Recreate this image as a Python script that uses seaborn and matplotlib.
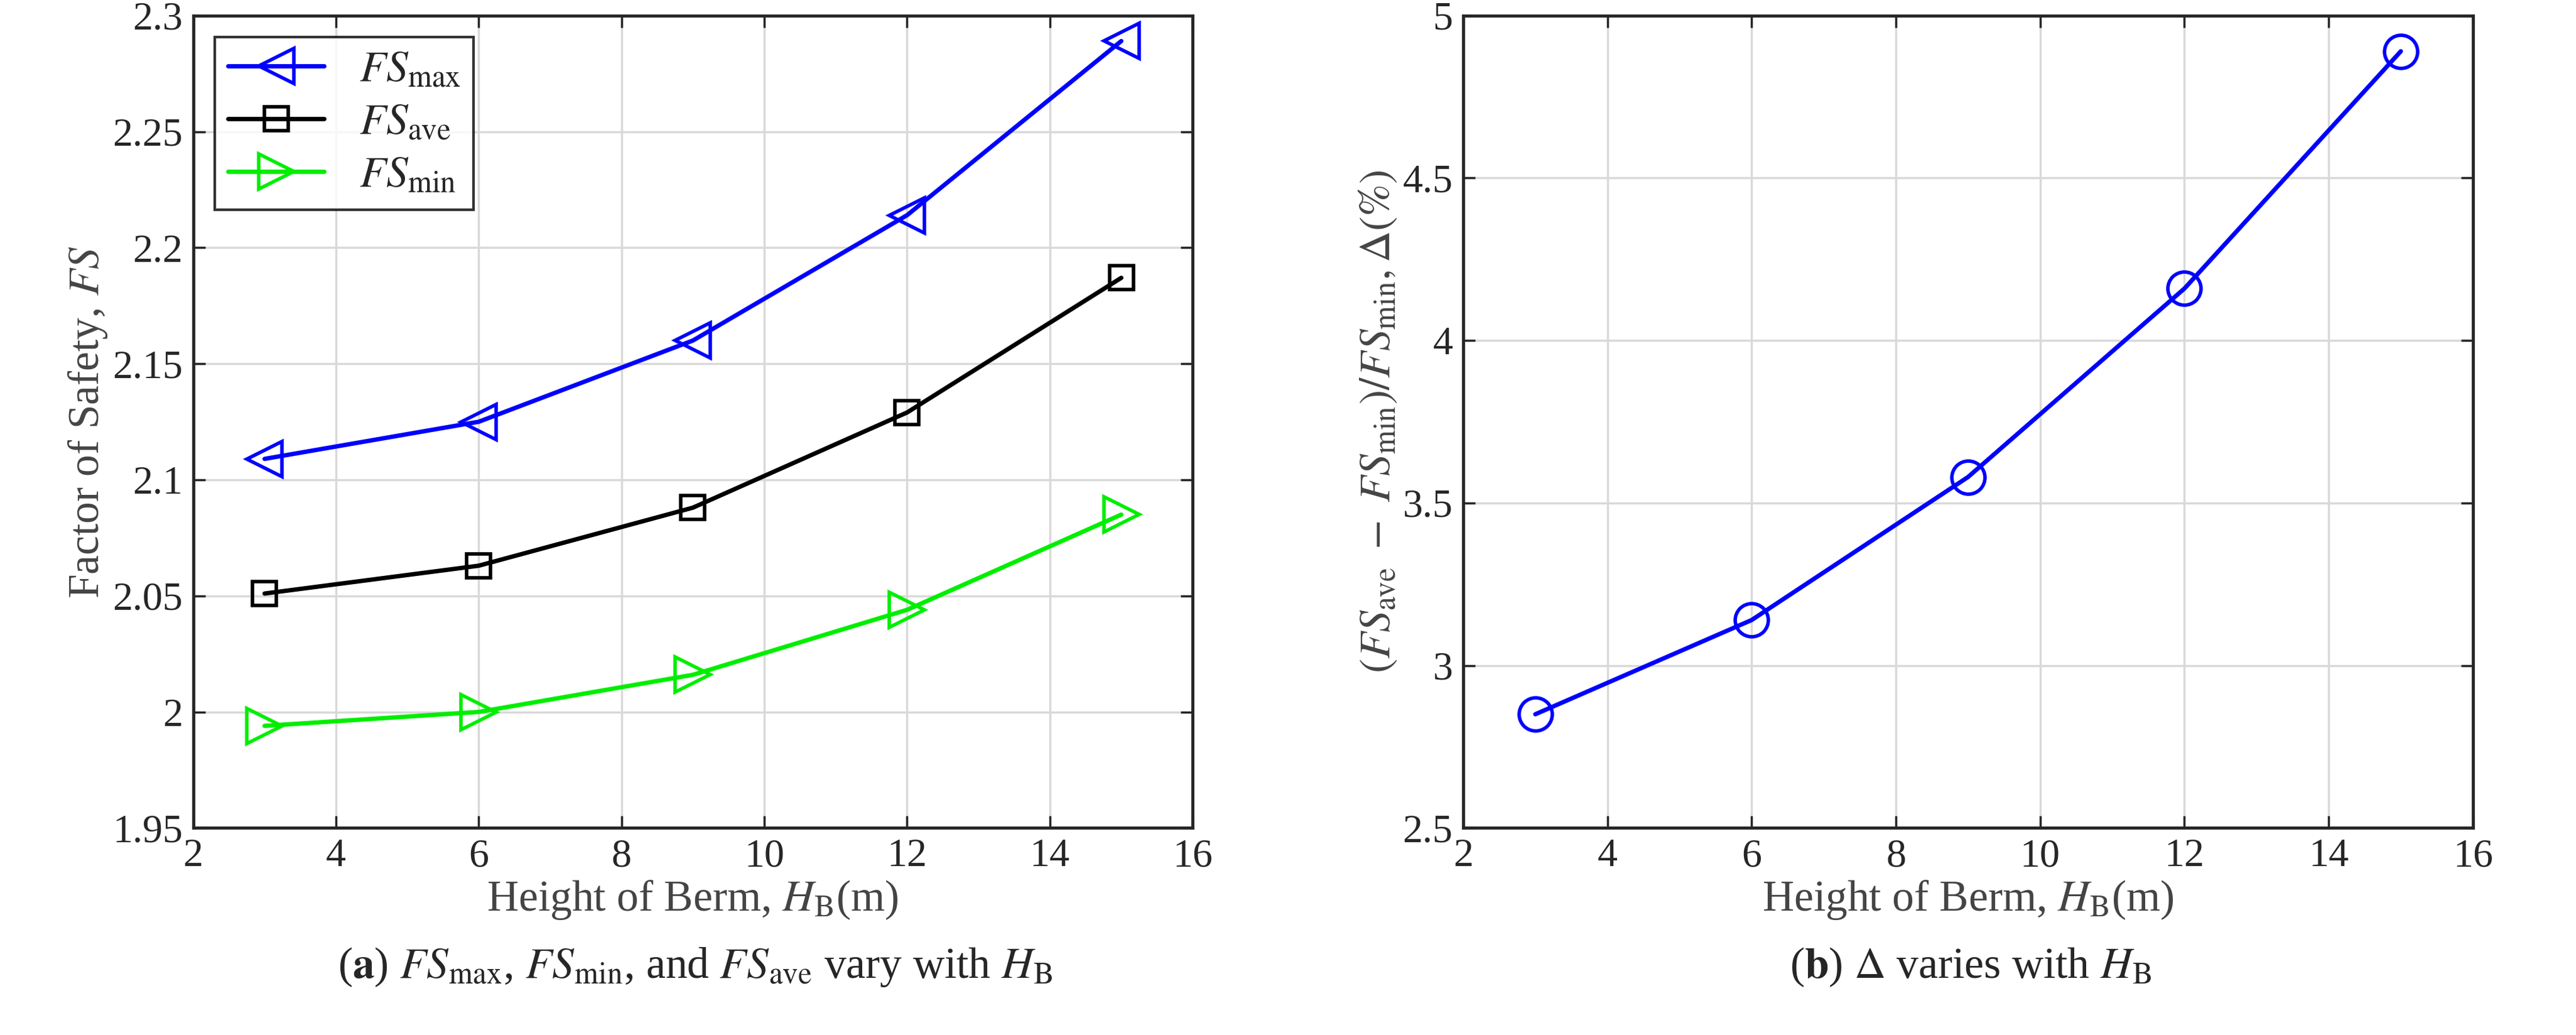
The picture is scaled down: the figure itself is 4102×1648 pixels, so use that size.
import matplotlib
matplotlib.use("Agg")
import matplotlib.pyplot as plt
import numpy as np
import pandas as pd
import seaborn as sns

heights = [3, 6, 9, 12, 15]
fs_max = [2.109, 2.125, 2.160, 2.214, 2.289]
fs_ave = [2.051, 2.063, 2.088, 2.129, 2.187]
fs_min = [1.994, 2.000, 2.016, 2.044, 2.085]
delta = [2.85, 3.14, 3.58, 4.16, 4.89]

sns.set_style("ticks")
plt.rcParams["font.family"] = ["Liberation Serif", "DejaVu Serif"]
plt.rcParams["mathtext.fontset"] = "stix"
plt.rcParams["font.size"] = 46

fig = plt.figure(figsize=(41.02, 16.48), dpi=100)
ax1 = fig.add_axes([0.075, 0.20, 0.388, 0.785])
ax2 = fig.add_axes([0.568, 0.20, 0.392, 0.785])


def style_axis(ax):
    ax.set_xlim(2, 16)
    ax.set_xticks(range(2, 17, 2))
    ax.grid(True, color="#d9d9d9", linewidth=2.5)
    ax.tick_params(direction="in", length=14, width=2.5, labelsize=46, top=True, right=True, pad=12)
    for s in ax.spines.values():
        s.set_linewidth(3.5)
    ax.set_xlabel(r"Height of Berm, $H_\mathrm{B}$(m)", fontsize=50, color="#444444")


series = [
    (fs_max, "blue", "<", r"$FS_{\mathrm{max}}$"),
    (fs_ave, "black", "s", r"$FS_{\mathrm{ave}}$"),
    (fs_min, "#00ee00", ">", r"$FS_{\mathrm{min}}$"),
]
for vals, color, marker, label in series:
    df = pd.DataFrame({"H": heights, "FS": vals})
    sns.lineplot(data=df, x="H", y="FS", ax=ax1, color=color, marker=marker,
                 markersize=40 if marker != "s" else 28, markerfacecolor="none",
                 markeredgecolor=color, markeredgewidth=4, linewidth=5, label=label)
style_axis(ax1)
ax1.set_ylim(1.95, 2.3)
ax1.set_yticks(np.arange(1.95, 2.301, 0.05))
ax1.set_yticklabels(["1.95", "2", "2.05", "2.1", "2.15", "2.2", "2.25", "2.3"])
ax1.set_ylabel(r"Factor of Safety, $FS$", fontsize=50, color="#444444")
leg = ax1.legend(loc="upper left", fontsize=50, frameon=True, fancybox=False,
                 edgecolor="black", handlelength=2.2, borderpad=0.3, labelspacing=0.3)
leg.get_frame().set_linewidth(3)

df2 = pd.DataFrame({"H": heights, "D": delta})
sns.lineplot(data=df2, x="H", y="D", ax=ax2, color="blue", marker="o", markersize=38,
             markerfacecolor="none", markeredgecolor="blue", markeredgewidth=4, linewidth=5)
style_axis(ax2)
ax2.set_ylim(2.5, 5)
ax2.set_yticks(np.arange(2.5, 5.01, 0.5))
ax2.set_yticklabels(["2.5", "3", "3.5", "4", "4.5", "5"])
ax2.set_ylabel(r"$(FS_{\mathrm{ave}}\ -\ FS_{\mathrm{min}})/FS_{\mathrm{min}},\Delta(\%)$",
               fontsize=50, color="#444444")

fig.text(0.27, 0.055, r"($\bf{a}$) $FS$$_{\rm max}$, $FS$$_{\rm min}$, and $FS$$_{\rm ave}$ vary with $H$$_{\rm B}$",
         ha="center", fontsize=50)
fig.text(0.765, 0.055, r"($\bf{b}$) $\Delta$ varies with $H$$_{\rm B}$", ha="center", fontsize=50)

fig.savefig("out.png", dpi=100, facecolor="white")
